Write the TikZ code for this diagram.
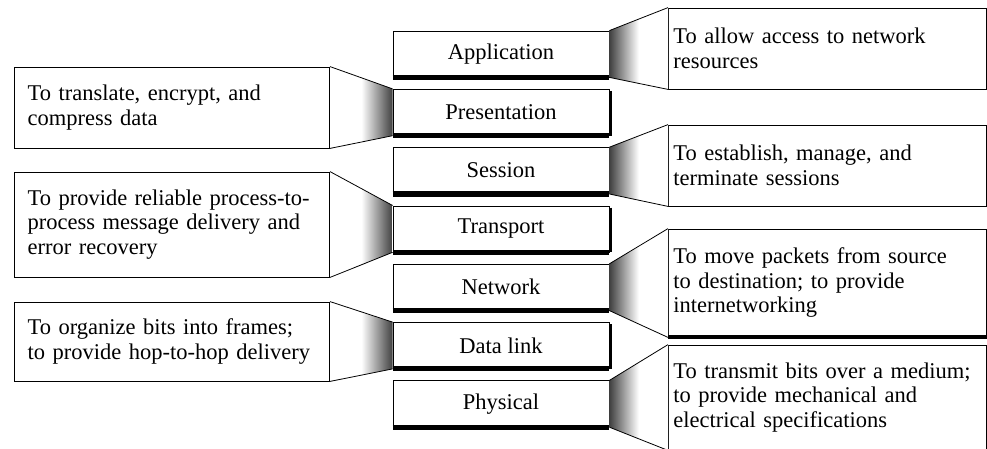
\documentclass[tikz,border=0pt]{standalone}
\usepackage{fontspec}
\setmainfont{Liberation Serif}
\usetikzlibrary{positioning}

\begin{document}
\begin{tikzpicture}[x=1pt,y=-1pt,line width=0.8pt,
        every node/.style={font=\fontsize{22.5}{24.5}\selectfont},
        layer/.style={draw,minimum width=216pt,minimum height=46pt,inner sep=0pt},
        ldesc/.style={draw,anchor=east,align=left,text width=289pt,inner xsep=13pt,inner ysep=0pt},
        rdesc/.style={draw,anchor=west,align=left,text width=308pt,inner xsep=5pt,inner ysep=0pt},
        shadow/.style={line width=5pt},
        rfan/.style={left color=black!75,right color=white,middle color=white},
        lfan/.style={left color=white,right color=black!75,middle color=white}]

  \useasboundingbox (0,0) rectangle (987,449);

  % the seven layers
  \node[layer] (app) at (501,54) {Application};
  \node[layer] (pres) [below=11.5pt of app] {Presentation};
  \node[layer] (sess) [below=11.5pt of pres] {Session};
  \node[layer] (trans) [below=11.5pt of sess] {Transport};
  \node[layer] (netw) [below=11.5pt of trans] {Network};
  \node[layer] (dlink) [below=11.5pt of netw] {Data link};
  \node[layer] (phys) [below=11.5pt of dlink] {Physical};

  % what each layer does
  \node[rdesc,minimum height=81pt] (appd) at (668,48.5) {To allow access to network\\resources};
  \node[ldesc,minimum height=81pt] (presd) at (330,107.5) {To translate, encrypt, and\\compress data};
  \node[rdesc,minimum height=81pt] (sessd) at (668,165.5) {To establish, manage, and\\terminate sessions};
  \node[ldesc,minimum height=105pt] (transd) at (330,224.5) {To provide reliable process-to-\\process message delivery and\\error recovery};
  \node[rdesc,minimum height=108pt] (netwd) at (668,283) {To move packets from source\\to destination; to provide\\internetworking};
  \node[ldesc,minimum height=79pt] (dlinkd) at (330,341.5) {To organize bits into frames;\\to provide hop-to-hop delivery};
  \node[rdesc,minimum height=105pt] (physd) at (668,397.5) {To transmit bits over a medium;\\to provide mechanical and\\electrical specifications};

  \foreach \a/\b in {app/appd,sess/sessd,netw/netwd,phys/physd} {
    \shade[rfan] (\a.north east) -- (\b.north west) -- (\b.south west) -- (\a.south east) -- cycle;
    \draw (\a.north east) -- (\b.north west) (\a.south east) -- (\b.south west);
  }
  \foreach \a/\b in {pres/presd,trans/transd,dlink/dlinkd} {
    \shade[lfan] (\b.north east) -- (\a.north west) -- (\a.south west) -- (\b.south east) -- cycle;
    \draw (\b.north east) -- (\a.north west) (\b.south east) -- (\a.south west);
    \draw[line width=3pt] ([xshift=1.5pt,yshift=-2pt]\a.north east) -- ([xshift=1.5pt]\a.south east);
  }

  \foreach \a in {app,pres,sess,trans,netw,dlink,phys}
    \draw[shadow] (\a.south west) -- (\a.south east);
  \draw[line width=4pt] (netwd.south west) -- (netwd.south east);

\end{tikzpicture}
\end{document}
